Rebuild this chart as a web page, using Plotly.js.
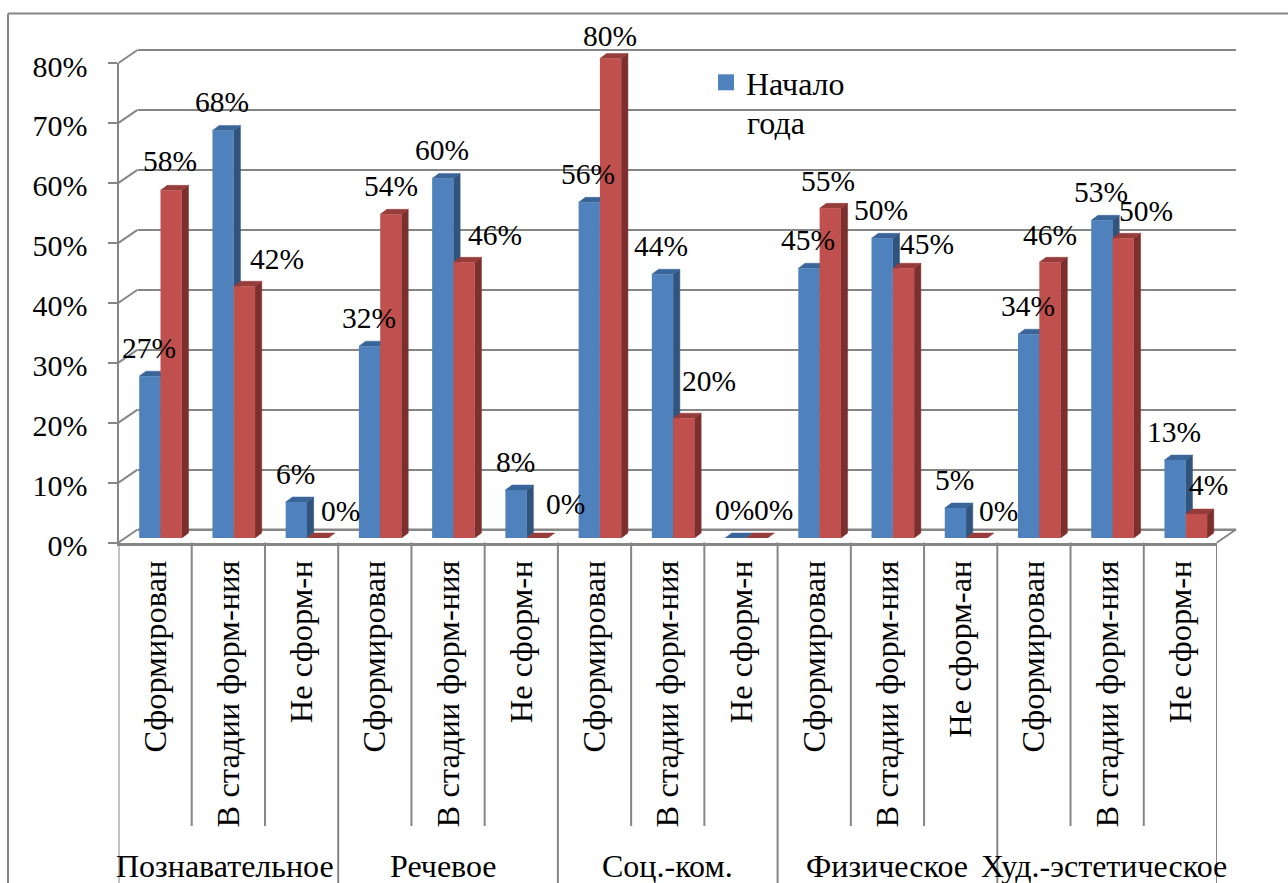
<!DOCTYPE html>
<html><head><meta charset="utf-8">
<script src="https://cdn.plot.ly/plotly-3.0.1.min.js"></script>
<style>html,body{margin:0;padding:0;background:#fff}</style>
</head><body><div id="chart" style="width:1288px;height:883px"></div>
<script>
// ---- data ----
const categories = ["Сформирован","В стадии форм-ния","Не сформ-н","Сформирован","В стадии форм-ния","Не сформ-н","Сформирован","В стадии форм-ния","Не сформ-н","Сформирован","В стадии форм-ния","Не сформ-ан","Сформирован","В стадии форм-ния","Не сформ-н"];
const groups = ["Познавательное","Речевое","Соц.-ком.","Физическое","Худ.-эстетическое"];
const blueValues = [27,68,6,32,60,8,56,44,0,45,50,5,34,53,13];
const redValues  = [58,42,0,54,46,0,80,20,0,55,45,0,46,50,4];
const yTicks = [0,10,20,30,40,50,60,70,80];
const yTickLabels = ["0%","10%","20%","30%","40%","50%","60%","70%","80%"];
const legendFirstLine = "Начало";
const legendSecondLine = "года";

// ---- label nudges (px), matching where the original placed its labels ----
const redLabelDx = [-1,33,23,0,31,28,-1,25,16,-2,23,22,0,23,12];
const redLabelDy = [29,27,27,28,27,34,23,37,28,27,24,27,27,27,29];
const groupLabelDx = [-3,-5,0,0,-3];

// ---- styling / geometry ----
const W=1288,H=883, FONT="Liberation Serif", AX="#868686";
const C={blue:"#4F81BD",blueSide:"#31547F",blueTop:"#3A6599",red:"#C0504D",redSide:"#7D2F2D",redTop:"#963C3A"};
const px=p=>p/W, py=p=>1-p/H;
const frontL=118.5, frontR=1217, front0=542.5, front80=63;
const slotPx=(frontR-frontL)/15, pctPx=(front0-front80)/80;
const backDX=19, backDY=13, barDX=5.4, barBase=538, faceTop=84;
const barW=0.291, depthX=6.7/slotPx, depthY=5/pctPx;
const xc=categories.map((_,i)=>i+0.5);

function faces(vals,x0off,x1off,kind){
  const xs=[],ys=[];
  vals.forEach((v,i)=>{
    const a=xc[i]+x0off,b=xc[i]+x1off;
    if(kind==="side"){ if(v<=0) return;
      xs.push(b,b+depthX,b+depthX,b,b,null); ys.push(0,depthY,v+depthY,v,0,null);
    } else {
      xs.push(a,a+depthX,b+depthX,b,a,null); ys.push(v,v+depthY,v+depthY,v,v,null);
    }
  });
  return {x:xs,y:ys};
}
function face(vals,a,b,kind,color){
  const f=faces(vals,a,b,kind);
  return {type:"scatter",mode:"lines",x:f.x,y:f.y,xaxis:"x3",yaxis:"y3",fill:"toself",fillcolor:color,
    line:{width:0.5,color:color},hoverinfo:"skip",showlegend:false,cliponaxis:false};
}

const traces=[
 {type:"scatter",mode:"lines",x:[0,15],y:[0,0],xaxis:"x",yaxis:"y",line:{color:AX,width:2},hoverinfo:"skip",showlegend:false},
 {type:"scatter",mode:"lines",x:[0,15],y:[0,0],xaxis:"x2",yaxis:"y2",line:{color:AX,width:0},hoverinfo:"skip",showlegend:false},
 face(blueValues,-barW,0,"side",C.blueSide),
 face(blueValues,-barW,0,"top",C.blueTop),
 face(redValues,0,barW,"side",C.redSide),
 face(redValues,0,barW,"top",C.redTop),
 {type:"bar",name:legendFirstLine,x:xc,y:blueValues,width:barW,offset:-barW,xaxis:"x4",yaxis:"y4",marker:{color:C.blue},showlegend:false,hoverinfo:"y"},
 {type:"bar",name:"Конец года",x:xc,y:redValues,width:barW,offset:0,xaxis:"x4",yaxis:"y4",marker:{color:C.red},showlegend:false,hoverinfo:"y"},
 // legend key: the original's square is larger than a bar trace's own swatch
 {type:"scatter",mode:"markers",name:legendFirstLine,x:[null],y:[null],xaxis:"x4",yaxis:"y4",marker:{symbol:"square",size:16,color:C.blue},showlegend:true,hoverinfo:"skip"}
];

const lblFont={family:FONT,size:29.5,color:"#000"};
const annotations=[];
blueValues.forEach((v,i)=>annotations.push({xref:"x4",yref:"y4",x:xc[i]-barW/2,y:v,text:v+"%",showarrow:false,
  xanchor:"center",yanchor:"middle",xshift:-1,yshift:28,font:lblFont}));
redValues.forEach((v,i)=>annotations.push({xref:"x4",yref:"y4",x:xc[i]+barW/2,y:v,text:v+"%",showarrow:false,
  xanchor:"center",yanchor:"middle",xshift:redLabelDx[i],yshift:redLabelDy[i],font:lblFont}));
groups.forEach((g,i)=>annotations.push({xref:"x2",yref:"paper",x:1.5+3*i,y:py(866),text:g,showarrow:false,
  xanchor:"center",yanchor:"middle",xshift:groupLabelDx[i],font:{family:FONT,size:32,color:"#000"}}));
annotations.push({xref:"paper",yref:"paper",x:px(745),y:py(123),text:legendSecondLine,showarrow:false,
  xanchor:"left",yanchor:"middle",font:{family:FONT,size:32,color:"#000"}});

const ln={color:AX,width:2};
const shapes=[
 {type:"line",xref:"paper",yref:"paper",x0:px(8),x1:1,y0:py(13.5),y1:py(13.5),line:ln},
 {type:"line",xref:"paper",yref:"paper",x0:px(8),x1:px(8),y0:py(13.5),y1:0,line:ln}
];
for(let i=0;i<=15;i++){
  shapes.push({type:"line",xref:"x2",yref:"paper",x0:i,x1:i,y0:py(front0),y1:i%3===0?0:py(826),line:ln});
}
// wall and floor edges running back from the front axes (paper refs: axis-ref shapes clip at the plot edge)
yTicks.forEach(t=>{
  const yy=front0-t*pctPx;
  shapes.push({type:"line",xref:"paper",yref:"paper",x0:px(frontL),x1:px(frontL+backDX),y0:py(yy),y1:py(yy-backDY),line:ln});
});
shapes.push({type:"line",xref:"paper",yref:"paper",x0:px(frontR),x1:px(frontR+backDX),y0:py(front0),y1:py(front0-backDY),line:ln});

const hidden=(dom,range,anchor)=>({domain:dom,range:range,visible:false,fixedrange:true,anchor:anchor});
const backLo=-2,backHi=82,back0=529.5,back80=50;
const bpp=(back0-back80)/80;
const layout={
 width:W,height:H,margin:{l:0,r:0,t:0,b:0},paper_bgcolor:"#fff",plot_bgcolor:"rgba(0,0,0,0)",
 barmode:"overlay",font:{family:FONT,color:"#000"},
 // back wall (gridlines)
 xaxis:hidden([px(frontL+backDX),px(frontR+backDX)],[0,15],"y"),
 yaxis:{domain:[py(back0+(0-backLo)*bpp),py(back80-(backHi-80)*bpp)],range:[backLo,backHi],anchor:"x",fixedrange:true,
   tickmode:"array",tickvals:yTicks,showticklabels:false,ticks:"",showgrid:true,gridcolor:AX,gridwidth:2,zeroline:false,showline:false},
 // front axes
 xaxis2:{domain:[px(frontL),px(frontR)],range:[0,15],anchor:"y2",fixedrange:true,tickmode:"array",tickvals:xc,ticktext:categories,
   tickangle:-90,tickfont:{family:FONT,size:32.5,color:"#000"},ticks:"",ticklen:0,ticklabelstandoff:2,showgrid:false,zeroline:false,showline:true,linecolor:AX,linewidth:3},
 yaxis2:{domain:[py(front0),py(front80)],range:[0,80],anchor:"x2",fixedrange:true,tickmode:"array",tickvals:yTicks,ticktext:yTickLabels,
   tickfont:{family:FONT,size:30,color:"#000"},ticks:"outside",ticklen:9,tickwidth:2,tickcolor:AX,ticklabelstandoff:14,ticklabelshift:3,showgrid:false,zeroline:false,showline:true,linecolor:AX,linewidth:2},
 // bar side/top faces, then bar fronts
 xaxis3:hidden([px(frontL+barDX),px(frontR+barDX)],[0,15],"y3"),
 yaxis3:hidden([py(barBase),py(barBase-faceTop*pctPx)],[0,faceTop],"x3"),
 xaxis4:hidden([px(frontL+barDX),px(frontR+barDX)],[0,15],"y4"),
 yaxis4:hidden([py(barBase),py(barBase-80*pctPx)],[0,80],"x4"),
 showlegend:true,
 legend:{x:px(706),y:py(55),xanchor:"left",yanchor:"top",bgcolor:"rgba(0,0,0,0)",font:{family:FONT,size:32,color:"#000"}},
 annotations:annotations,shapes:shapes,hovermode:false
};
Plotly.newPlot("chart",traces,layout,{displayModeBar:false,staticPlot:true});
</script></body></html>
